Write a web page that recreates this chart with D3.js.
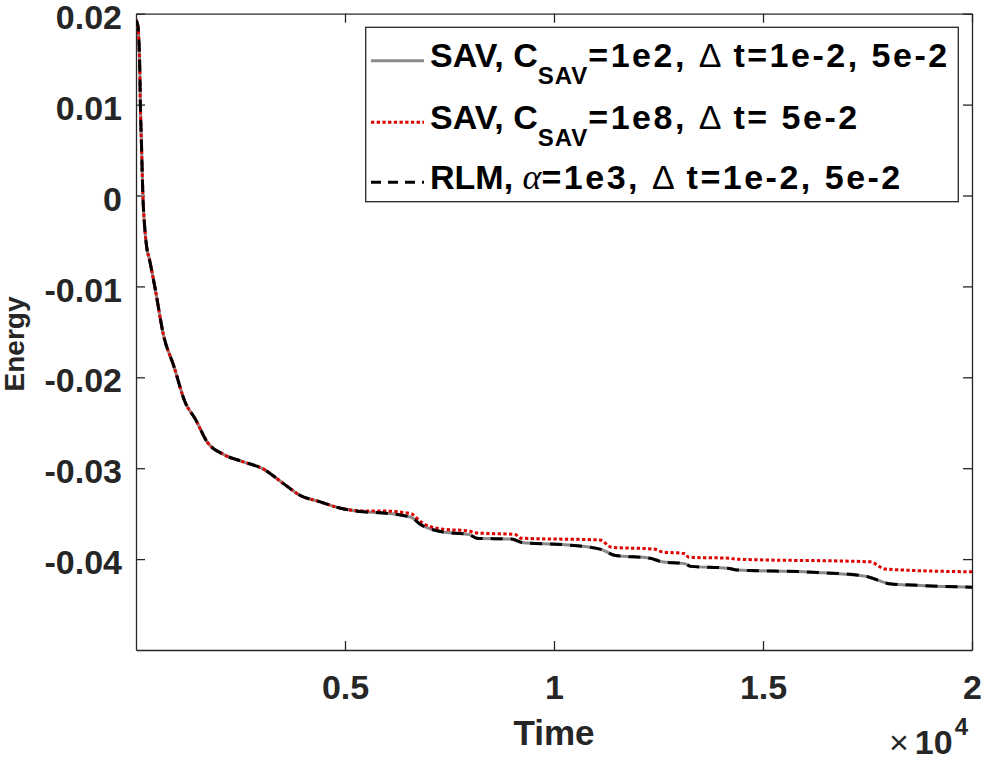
<!DOCTYPE html>
<html>
<head>
<meta charset="utf-8">
<script src="https://cdn.jsdelivr.net/npm/d3@7"></script>
<style>
  body { margin: 0; background: #fff; }
  svg { display: block; font-family: "Liberation Sans", Arial, sans-serif; }
  .axis text { font-size: 34px; font-weight: bold; fill: #262626; }
  .axis path, .axis line { stroke: #262626; stroke-width: 1.3; }
</style>
</head>
<body>
<script>
// time / energy samples
// SAV C=1e2 (grey) and RLM (black dashed) lie on top of each other
var timeA = [0, 40, 70, 90, 105, 135, 165, 205, 260, 320, 460, 660, 900, 1180, 1420, 1700,
  2100, 2570, 3050, 3530, 3930, 4410, 4890, 5450, 5840, 6580, 6810, 7320, 7970, 8150,
  8980, 9260, 10180, 11100, 11470, 12300, 12580, 13130, 13270, 14150, 14380, 15990,
  16450, 17470, 18020, 18760, 20000];
var energySAV1e2 = [0.0193, 0.0188, 0.0170, 0.0140, 0.0100, 0.0050, 0.0000, -0.0033, -0.0058,
  -0.0070, -0.0103, -0.0154, -0.0187, -0.0228, -0.0246, -0.0271, -0.0285, -0.0293, -0.0301,
  -0.0317, -0.0330, -0.0337, -0.0344, -0.0348, -0.0349, -0.0354, -0.0362, -0.0370, -0.0373,
  -0.0377, -0.0378, -0.0382, -0.0384, -0.0389, -0.0396, -0.0399, -0.0403, -0.0405, -0.0408,
  -0.0410, -0.0412, -0.0414, -0.0415, -0.0419, -0.0427, -0.0429, -0.0431];
var energyRLM = energySAV1e2.slice();

// SAV C=1e8 (red dotted)
var timeB = [0, 40, 70, 90, 105, 135, 165, 205, 260, 320, 460, 660, 900, 1180, 1420, 1700,
  2100, 2570, 3050, 3530, 3930, 4410, 4890, 5450, 5840, 6580, 6810, 7320, 7970, 8100,
  9070, 9210, 11100, 11380, 12390, 12580, 13130, 13220, 14190, 14330, 17560, 17930, 20000];
var energySAV1e8 = [0.0193, 0.0188, 0.0170, 0.0140, 0.0100, 0.0050, 0.0000, -0.0033, -0.0058,
  -0.0070, -0.0103, -0.0154, -0.0187, -0.0228, -0.0246, -0.0271, -0.0285, -0.0293, -0.0301,
  -0.0317, -0.0330, -0.0337, -0.0344, -0.0347, -0.0347, -0.0350, -0.0359, -0.0367, -0.0369,
  -0.0371, -0.0373, -0.0377, -0.0379, -0.0387, -0.0389, -0.0392, -0.0394, -0.0398, -0.0399,
  -0.0400, -0.0403, -0.0411, -0.0414];

var xTicks = [5000, 10000, 15000, 20000];
var xTickLabels = ["0.5", "1", "1.5", "2"];
var yTicks = [-0.04, -0.03, -0.02, -0.01, 0, 0.01, 0.02];
var yTickLabels = ["-0.04", "-0.03", "-0.02", "-0.01", "0", "0.01", "0.02"];

var width = 985,
    height = 760;

var svg = d3.select("body").append("svg")
    .attr("width", width)
    .attr("height", height);

var x = d3.scaleLinear().domain([0, 20000]).range([136, 972]);
var y = d3.scaleLinear().domain([-0.05, 0.02]).range([650, 13.7]);

svg.append("clipPath").attr("id", "plotclip")
  .append("rect")
    .attr("x", 136).attr("y", 13.7)
    .attr("width", 972 - 136).attr("height", 650 - 13.7);

// axes, ticks pointing inwards, box on
svg.append("g").attr("class", "axis")
    .attr("transform", "translate(0,650)")
    .call(d3.axisBottom(x).tickValues(xTicks).tickSize(-9).tickSizeOuter(0).tickPadding(25)
      .tickFormat(function(d, i) { return xTickLabels[i]; }));

svg.append("g").attr("class", "axis")
    .attr("transform", "translate(0,13.7)")
    .call(d3.axisTop(x).tickValues(xTicks).tickSize(-9).tickSizeOuter(0).tickFormat(""));

var yAxis = svg.append("g").attr("class", "axis")
    .attr("transform", "translate(136,0)")
    .call(d3.axisLeft(y).tickValues(yTicks).tickSize(-9).tickSizeOuter(0).tickPadding(14)
      .tickFormat(function(d, i) { return yTickLabels[i]; }));
yAxis.selectAll("text").attr("dy", "0.43em");

svg.append("g").attr("class", "axis")
    .attr("transform", "translate(972,0)")
    .call(d3.axisRight(y).tickValues(yTicks).tickSize(-9).tickSizeOuter(0).tickFormat(""));

svg.selectAll(".axis .domain").attr("fill", "none");

// series
var line = d3.line()
    .x(function(d) { return x(d[0]); })
    .y(function(d) { return y(d[1]); })
    .curve(d3.curveMonotoneX);

var series = [
  { t: timeA, e: energySAV1e2, color: "#8a8a8a", dash: null },
  { t: timeB, e: energySAV1e8, color: "#e00000", dash: "3.3,2.4" },
  { t: timeA, e: energyRLM, color: "#000", dash: "12,8" }
];

var plot = svg.append("g").attr("clip-path", "url(#plotclip)");
series.forEach(function(s) {
  plot.append("path")
      .datum(d3.zip(s.t, s.e))
      .attr("d", line)
      .attr("fill", "none")
      .attr("stroke", s.color)
      .attr("stroke-width", 3)
      .attr("stroke-dasharray", s.dash);
});

// axis labels
svg.append("text")
    .attr("x", 554).attr("y", 745)
    .attr("text-anchor", "middle")
    .style("font-size", "35px").style("font-weight", "bold").style("fill", "#262626")
    .text("Time");

svg.append("text")
    .attr("transform", "translate(24,344) rotate(-90)")
    .attr("text-anchor", "middle")
    .style("font-size", "28px").style("font-weight", "bold").style("fill", "#262626")
    .text("Energy");

// x10^4 exponent
var expo = svg.append("text")
    .attr("x", 889).attr("y", 754)
    .style("font-weight", "bold").style("fill", "#262626");
expo.append("tspan").style("font-size", "34px").style("font-weight", "normal").text("×");
expo.append("tspan").attr("dx", 6).style("font-size", "34px").text("10");
expo.append("tspan").attr("dx", 2).attr("dy", -19).style("font-size", "24px").text("4");

// legend
var legend = svg.append("g");
legend.append("rect")
    .attr("x", 365.7).attr("y", 27.3)
    .attr("width", 592.6).attr("height", 174.4)
    .attr("fill", "#fff").attr("stroke", "#262626").attr("stroke-width", 1.3);

var rowY = [60.7, 122.3, 182.3];
series.forEach(function(s, i) {
  legend.append("line")
      .attr("x1", 371).attr("x2", 424)
      .attr("y1", rowY[i]).attr("y2", rowY[i])
      .attr("stroke", s.color).attr("stroke-width", 3)
      .attr("stroke-dasharray", i === 2 ? "10,7" : s.dash);
});

function legendText(i) {
  return legend.append("text")
      .attr("x", 430).attr("y", rowY[i] + 6.5)
      .style("font-size", "34px").style("font-weight", "bold").style("fill", "#000");
}

var sp = "2.5px";
var t1 = legendText(0);
t1.append("tspan").text("SAV, C");
t1.append("tspan").attr("dy", 17).style("font-size", "24px").style("letter-spacing", "1px").text("SAV");
t1.append("tspan").attr("dy", -17).style("letter-spacing", sp).text("=1e2, ");
t1.append("tspan").style("font-weight", "normal").text("Δ");
t1.append("tspan").style("letter-spacing", sp).text(" t=1e-2, 5e-2");

var t2 = legendText(1);
t2.append("tspan").text("SAV, C");
t2.append("tspan").attr("dy", 17).style("font-size", "24px").style("letter-spacing", "1px").text("SAV");
t2.append("tspan").attr("dy", -17).style("letter-spacing", sp).text("=1e8, ");
t2.append("tspan").style("font-weight", "normal").text("Δ");
t2.append("tspan").style("letter-spacing", sp).text(" t= 5e-2");

var t3 = legendText(2);
t3.append("tspan").text("RLM, ");
t3.append("tspan").style("font-family", "'Liberation Serif', serif").style("font-style", "italic")
    .style("font-weight", "normal").style("font-size", "36px").text("α");
t3.append("tspan").style("letter-spacing", sp).text("=1e3, ");
t3.append("tspan").style("font-weight", "normal").text("Δ");
t3.append("tspan").style("letter-spacing", sp).text(" t=1e-2, 5e-2");
</script>
</body>
</html>
